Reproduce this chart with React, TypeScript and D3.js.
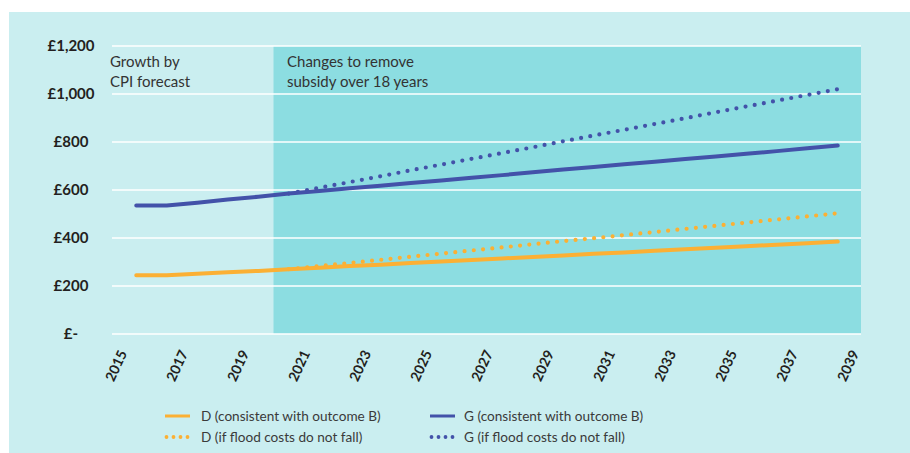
import React, { useEffect, useRef } from 'react';
import * as d3 from 'd3';

// fiscal years (placed mid-year on the axis)
const years = [2015, 2016, 2017, 2018, 2019, 2020, 2021, 2022, 2023, 2024, 2025, 2026,
  2027, 2028, 2029, 2030, 2031, 2032, 2033, 2034, 2035, 2036, 2037, 2038];

const dSolid = [245, 245, 251, 257, 263, 270, 276, 283, 289, 296, 302, 308,
  315, 321, 327, 334, 340, 347, 353, 359, 366, 372, 378, 385];
const dDotted = [245, 245, 251, 257, 263, 270, 283, 296, 309, 322, 335, 348,
  361, 374, 387, 399, 412, 425, 438, 451, 464, 477, 490, 503];
const gSolid = [535, 535, 547, 560, 572, 585, 596, 607, 618, 629, 640, 651,
  662, 674, 685, 696, 707, 718, 729, 740, 751, 762, 774, 785];
const gDotted = [535, 535, 547, 560, 572, 585, 609, 633, 657, 682, 706, 730,
  754, 778, 803, 827, 851, 875, 899, 924, 948, 972, 996, 1020];

const xTicks = [2015, 2017, 2019, 2021, 2023, 2025, 2027, 2029, 2031, 2033, 2035, 2037, 2039];
const yTicks = [0, 200, 400, 600, 800, 1000, 1200];
const shadeStart = 2020;
// dotted scenarios only diverge from this year on
const divergeYear = 2020;

const ORANGE = '#fbb034';
const BLUE = '#4352a9';
const FONT = 'Lato, "Open Sans", sans-serif';

const legendItems = [
  { label: 'D (consistent with outcome B)', color: ORANGE, dotted: false, col: 0, row: 0 },
  { label: 'G (consistent with outcome B)', color: BLUE, dotted: false, col: 1, row: 0 },
  { label: 'D (if flood costs do not fall)', color: ORANGE, dotted: true, col: 0, row: 1 },
  { label: 'G (if flood costs do not fall)', color: BLUE, dotted: true, col: 1, row: 1 },
];

const App: React.FC = () => {
  const ref = useRef<SVGSVGElement>(null);

  useEffect(() => {
    if (!ref.current) return;
    const svg = d3.select(ref.current);
    svg.selectAll('*').remove();

    const W = 910, H = 453;
    const plotLeft = 112, plotRight = 861;

    const x = d3.scaleLinear().domain([2015, 2039]).range([121, 853]);
    const y = d3.scaleLinear().domain([0, 1200]).range([334, 46]);

    // background panel
    svg.append('rect').attr('x', 9).attr('y', 12).attr('width', W - 9).attr('height', H - 12)
      .attr('fill', '#caeef0');

    // shaded subsidy region
    svg.append('rect')
      .attr('x', x(shadeStart)).attr('y', y(1200))
      .attr('width', plotRight - x(shadeStart)).attr('height', y(0) - y(1200))
      .attr('fill', '#8cdde1');

    // gridlines
    svg.append('g').selectAll('line').data(yTicks).enter().append('line')
      .attr('x1', plotLeft).attr('x2', plotRight)
      .attr('y1', d => y(d)).attr('y2', d => y(d))
      .attr('stroke', '#fff').attr('stroke-width', 1.5);

    // y labels
    svg.append('g').selectAll('text').data(yTicks).enter().append('text')
      .attr('x', 71).attr('y', d => y(d)).attr('dy', '0.35em')
      .attr('text-anchor', 'middle')
      .style('font-family', FONT).style('font-size', '15px').style('font-weight', 700)
      .style('fill', '#231f20')
      .text(d => d === 0 ? '£-' : '£' + d3.format(',')(d));

    // x labels
    svg.append('g').selectAll('text').data(xTicks).enter().append('text')
      .attr('transform', d => `translate(${x(d) + 2},351) rotate(-65)`)
      .attr('dy', '0.35em')
      .attr('text-anchor', 'end')
      .style('font-family', FONT).style('font-size', '14px').style('font-weight', 700)
      .style('fill', '#231f20')
      .text(d => String(d));

    // annotations
    const notes = [
      { x: 110, lines: ['Growth by', 'CPI forecast'] },
      { x: 287, lines: ['Changes to remove', 'subsidy over 18 years'] },
    ];
    notes.forEach(n => {
      const t = svg.append('text').attr('x', n.x).attr('y', 67)
        .style('font-family', FONT).style('font-size', '15px').style('fill', '#333');
      n.lines.forEach((l, i) => t.append('tspan').attr('x', n.x).attr('dy', i === 0 ? 0 : 19.5).text(l));
    });

    const line = d3.line<number>()
      .defined((_, i) => true)
      .x((_, i) => x(years[i] + 0.5))
      .y(d => y(d));
    const dottedLine = d3.line<number>()
      .defined((_, i) => years[i] >= divergeYear)
      .x((_, i) => x(years[i] + 0.5))
      .y(d => y(d));

    const series = [
      { data: dDotted, color: ORANGE, dotted: true },
      { data: gDotted, color: BLUE, dotted: true },
      { data: dSolid, color: ORANGE, dotted: false },
      { data: gSolid, color: BLUE, dotted: false },
    ];
    series.forEach(s => {
      svg.append('path')
        .attr('d', (s.dotted ? dottedLine : line)(s.data))
        .attr('fill', 'none')
        .attr('stroke', s.color)
        .attr('stroke-width', s.dotted ? 4.2 : 4)
        .attr('stroke-linecap', 'round')
        .attr('stroke-linejoin', 'round')
        .attr('stroke-dasharray', s.dotted ? '0 9.3' : null);
    });

    // legend
    const colX = [165, 430];
    const rowY = [416, 437];
    const lg = svg.append('g').selectAll('g').data(legendItems).enter().append('g')
      .attr('transform', d => `translate(${colX[d.col]},${rowY[d.row]})`);
    lg.append('line')
      .attr('x1', 0).attr('x2', 25).attr('y1', 0).attr('y2', 0)
      .attr('stroke', d => d.color)
      .attr('stroke-width', d => d.dotted ? 3.8 : 3)
      .attr('stroke-linecap', d => d.dotted ? 'round' : 'butt')
      .attr('stroke-dasharray', d => d.dotted ? '0 7' : null)
      .attr('transform', d => d.dotted ? 'translate(1.5,0)' : null);
    lg.append('text')
      .attr('x', d => d.col === 0 ? 36 : 34).attr('dy', '0.35em')
      .style('font-family', FONT).style('font-size', '13.6px').style('fill', '#3a3a3a')
      .text(d => d.label);
  }, []);

  return (
    <svg ref={ref} width={910} height={453}
      style={{ position: 'absolute', left: 0, top: 0, background: '#fff' }} />
  );
};

export default App;
